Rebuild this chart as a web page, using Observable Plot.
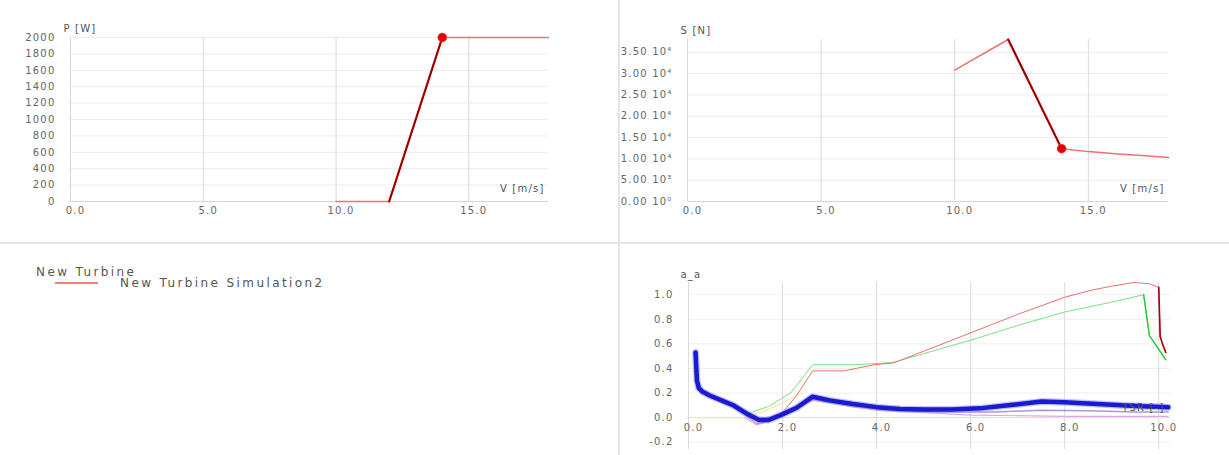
<!DOCTYPE html>
<html><head><meta charset="utf-8">
<script src="https://cdn.jsdelivr.net/npm/d3@7"></script>
<script src="https://cdn.jsdelivr.net/npm/@observablehq/plot@0.6"></script>
<style>
body{margin:0;background:#fff;}
#wrap{position:relative;width:1229px;height:455px;overflow:hidden;background:#fff;font-family:"DejaVu Sans",sans-serif;}
.panel{position:absolute;overflow:hidden;}
.panel svg{overflow:hidden;}
.panel svg text{letter-spacing:1.2px;}
.sep{position:absolute;background:#e4e4e4;z-index:5;}
.leg{position:absolute;color:#555;font-size:12px;letter-spacing:2.4px;white-space:nowrap;line-height:1;}
</style></head>
<body><div id="wrap">
<div class="panel" id="p1" style="left:0;top:0;width:619px;height:243px"></div>
<div class="panel" id="p2" style="left:619px;top:0;width:610px;height:243px"></div>
<div class="panel" id="p4" style="left:619px;top:244px;width:610px;height:211px"></div>
<div class="leg" id="leg1" style="left:36px;top:266px"></div>
<div id="legline" style="position:absolute;left:55px;top:282px;width:43px;height:1.5px;background:#f08080"></div>
<div class="leg" id="leg2" style="left:120px;top:277px"></div>
<div class="sep" style="left:618px;top:0;width:2px;height:455px"></div>
<div class="sep" style="left:0;top:242px;width:1229px;height:2px"></div>
</div>
<script>
// ---- data ----
const legendTitle = "New Turbine";
const legendSeries = "New Turbine Simulation2";
const speedTicks = [0, 5, 10, 15];
const powerTicks = [0, 200, 400, 600, 800, 1000, 1200, 1400, 1600, 1800, 2000];
const thrustTicks = [0, 5000, 10000, 15000, 20000, 25000, 30000, 35000];
const windSpeed = [10, 12, 14, 18];
const power = [0, 0, 2000, 2000];
const thrustSpeed = [10, 12, 14, 15, 16, 17, 18];
const thrust = [30800, 38000, 12400, 11700, 11200, 10800, 10300];
const operatingSpeed = 14;
const highlightRange = [12, 14];

const tsrTicks = [0, 2, 4, 6, 8, 10];
const aTicks = [-0.2, 0.0, 0.2, 0.4, 0.6, 0.8, 1.0];
const blueX = [0.15, 0.16, 0.18, 0.22, 0.3, 0.45, 0.7, 0.95, 1.25, 1.5, 1.7, 1.96, 2.3, 2.64, 3.0, 3.5, 4.0, 4.5, 5.0, 5.6, 6.2, 6.8, 7.5, 8.0, 8.5, 9.0, 9.5, 9.8, 10.2];
const blueY = [0.53, 0.45, 0.30, 0.24, 0.21, 0.18, 0.14, 0.10, 0.03, -0.02, -0.02, 0.02, 0.08, 0.17, 0.14, 0.11, 0.085, 0.07, 0.065, 0.065, 0.075, 0.10, 0.13, 0.125, 0.115, 0.105, 0.095, 0.09, 0.085];
const redX = [0.15, 0.2, 0.4, 0.9, 1.2, 1.45, 1.7, 2.0, 2.3, 2.64, 3.3, 3.94, 4.36, 5.0, 6.0, 7.0, 8.0, 8.6, 9.0, 9.47, 9.8, 10.0, 10.03, 10.08, 10.15];
const redY = [0.5, 0.26, 0.19, 0.1, 0.02, -0.05, -0.03, 0.04, 0.18, 0.38, 0.38, 0.43, 0.445, 0.54, 0.69, 0.84, 0.98, 1.04, 1.07, 1.10, 1.09, 1.06, 0.66, 0.60, 0.53];
const greenX = [0.15, 0.3, 0.9, 1.32, 1.7, 2.17, 2.64, 3.5, 4.0, 4.36, 5.36, 6.0, 7.0, 8.0, 9.0, 9.68, 9.8, 10.15];
const greenY = [0.3, 0.21, 0.1, 0.04, 0.09, 0.2, 0.43, 0.43, 0.44, 0.45, 0.56, 0.63, 0.75, 0.86, 0.94, 1.0, 0.67, 0.47];
const lilacX = [1.2, 1.5, 2.0, 2.64, 3.5, 4.5, 5.5, 6.5, 7.5, 8.5, 9.5, 10.2];
const lilacY = [0.02, -0.01, 0.02, 0.15, 0.09, 0.055, 0.045, 0.045, 0.06, 0.055, 0.045, 0.045];
const pinkX = [1.2, 1.45, 1.8, 2.64, 4.0, 6.0, 8.0, 10.2];
const pinkY = [0.0, -0.06, -0.02, 0.14, 0.06, 0.02, 0.01, 0.01];
const yellowX = [0.15, 0.2, 1.2, 1.6, 2.0, 2.4];
const yellowY = [0.0, 0.0, 0.0, 0.05, 0.12, 0.2];

// ---- helpers ----
const zip = (xs, ys) => xs.map((x, i) => ({x, y: ys[i]}));
const sup = {"0":"⁰","1":"¹","2":"²","3":"³","4":"⁴","5":"⁵","-":"⁻"};
const sciFmt = v => {
  if (v === 0) return "0.00 10⁰";
  const e = Math.floor(Math.log10(v));
  const m = (v / Math.pow(10, e)).toFixed(2);
  return m + " 10" + String(e).split("").map(c => sup[c]).join("");
};
const tickStyle = {fontSize: "10px", color: "#666", fontFamily: "DejaVu Sans, sans-serif", background: "white"};

function curvePanel(xs, ys, yTicks, yFmt, yMax, yLabel, w, h, ml, mr, mt, mb) {
  const data = zip(xs, ys);
  const hi = data.filter(d => d.x >= highlightRange[0] && d.x <= highlightRange[1]);
  const op = data.filter(d => d.x === operatingSpeed);
  return Plot.plot({
    width: w, height: h, marginLeft: ml, marginRight: mr, marginTop: mt, marginBottom: mb,
    style: tickStyle,
    x: {domain: [0, 18]},
    y: {domain: [0, yMax]},
    marks: [
      Plot.gridY(yTicks, {stroke: "#ececec", strokeOpacity: 1}),
      Plot.gridX(speedTicks, {stroke: "#dadada", strokeOpacity: 1}),
      Plot.ruleY([0], {stroke: "#d6d6d6"}),
      Plot.axisX({ticks: speedTicks, tickFormat: d => d.toFixed(1), tickSize: 0, tickPadding: 5, dx: 5, label: null, fill: "#666"}),
      Plot.axisY({ticks: yTicks, tickFormat: yFmt, tickSize: 0, tickPadding: 15, label: null, fill: "#666"}),
      Plot.line(data, {x: "x", y: "y", stroke: "#ee7070", strokeWidth: 1.5}),
      Plot.line(hi, {x: "x", y: "y", stroke: "#c00000", strokeWidth: 2.2}),
      Plot.line(hi, {x: "x", y: "y", stroke: "#5a0000", strokeWidth: 0.6}),
      Plot.dot(op, {x: "x", y: "y", r: 4.5, fill: "#e00000", stroke: "#ff4040", strokeWidth: 0.5}),
      Plot.text([yLabel], {frameAnchor: "top-left", dx: -7, dy: -13, textAnchor: "start", fill: "#555", fontSize: 10}),
      Plot.text(["V [m/s]"], {frameAnchor: "bottom-right", dx: -4, dy: -10, textAnchor: "end", fill: "#555", fontSize: 10})
    ]
  });
}

document.getElementById("p1").appendChild(
  curvePanel(windSpeed, power, powerTicks, d => String(d), 2000, "P [W]", 619, 243, 70, 71, 37, 42)
);
document.getElementById("p2").appendChild(
  curvePanel(thrustSpeed, thrust, thrustTicks, sciFmt, 38000, "S [N]", 610, 243, 68, 61, 39, 42)
);

const blue = zip(blueX, blueY), red = zip(redX, redY), green = zip(greenX, greenY);
const lilac = zip(lilacX, lilacY), pink = zip(pinkX, pinkY), yellow = zip(yellowX, yellowY);
document.getElementById("p4").appendChild(Plot.plot({
  width: 610, height: 211, marginLeft: 69, marginRight: 59, marginTop: 38, marginBottom: 6,
  style: tickStyle,
  x: {domain: [0, 10.25], axis: null},
  y: {domain: [-0.26, 1.1]},
  marks: [
    Plot.gridY(aTicks, {stroke: "#efefef", strokeOpacity: 1}),
    Plot.gridX(tsrTicks, {stroke: "#dadada", strokeOpacity: 1}),
    Plot.ruleY([0], {stroke: "#e0e0d0"}),
    Plot.axisY({ticks: aTicks, tickFormat: d => d.toFixed(1), tickSize: 0, tickPadding: 15, label: null, fill: "#666"}),
    Plot.text(tsrTicks, {x: d => d, y: d => 0, dy: 10, dx: 5, text: d => d.toFixed(1), fill: "#666", fontSize: 10}),
    Plot.line(yellow, {x: "x", y: "y", stroke: "#f0eaa0", strokeWidth: 1.2}),
    Plot.line(pink, {x: "x", y: "y", stroke: "#e0a8e8", strokeWidth: 1.2}),
    Plot.line(lilac, {x: "x", y: "y", stroke: "#a89ad8", strokeWidth: 1.5}),
    Plot.line(green, {x: "x", y: "y", stroke: "#7ee07e", strokeWidth: 1}),
    Plot.line(green.filter(d => d.x >= 9.68), {x: "x", y: "y", stroke: "#22cc33", strokeWidth: 1.4}),
    Plot.line(red, {x: "x", y: "y", stroke: "#e87070", strokeWidth: 1}),
    Plot.line(red.filter(d => d.x >= 10.0), {x: "x", y: "y", stroke: "#b00000", strokeWidth: 1.6}),
    Plot.line(blue, {x: "x", y: "y", stroke: "#9a9af0", strokeWidth: 7, strokeOpacity: 0.6}),
    Plot.line(blue, {x: "x", y: "y", stroke: "#1a1ad0", strokeWidth: 4.5}),
    Plot.text(["TSR [-]"], {x: d => 10.25, y: d => 0, dx: -6, dy: -10, textAnchor: "end", fill: "#555", fontSize: 10}),
    Plot.text(["a_a"], {frameAnchor: "top-left", dx: -8, dy: -12, textAnchor: "start", fill: "#555", fontSize: 10})
  ]
}));

document.getElementById("leg1").textContent = legendTitle;
document.getElementById("leg2").textContent = legendSeries;
</script>
</body></html>
